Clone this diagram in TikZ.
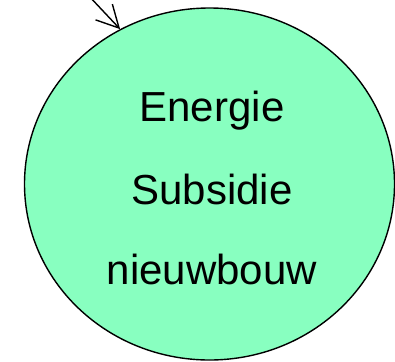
\documentclass[tikz,border=0pt]{standalone}
\usepackage{fontspec}
\setmainfont{Liberation Sans}
\usetikzlibrary{arrows.meta,shapes.geometric}
\definecolor{blobgreen}{HTML}{88FFC0}
\tikzset{
  blob/.style={ellipse, draw=black, line width=1.4pt, fill=blobgreen, inner sep=0pt,
    minimum width=370pt, minimum height=352pt},
  label/.style={anchor=base, inner sep=0pt, font=\fontsize{42}{50}\selectfont},
  pointer/.style={line width=1.4pt, -{Straight Barb[length=22pt,width=23pt,line width=1.4pt]}}
}
\begin{document}
\begin{tikzpicture}[x=1pt,y=-1pt]
\useasboundingbox (0,0) rectangle (395,361);
\node[blob] (e) at (209.5,184) {};
\node[label] (t1) at (212,121) {Energie};
\node[label] (t2) at (212,204) {Subsidie};
\node[label] (t3) at (212,284) {nieuwbouw};
\coordinate (src) at (88,-5);
\draw[pointer] (src) -- (e.120);
\end{tikzpicture}
\end{document}
